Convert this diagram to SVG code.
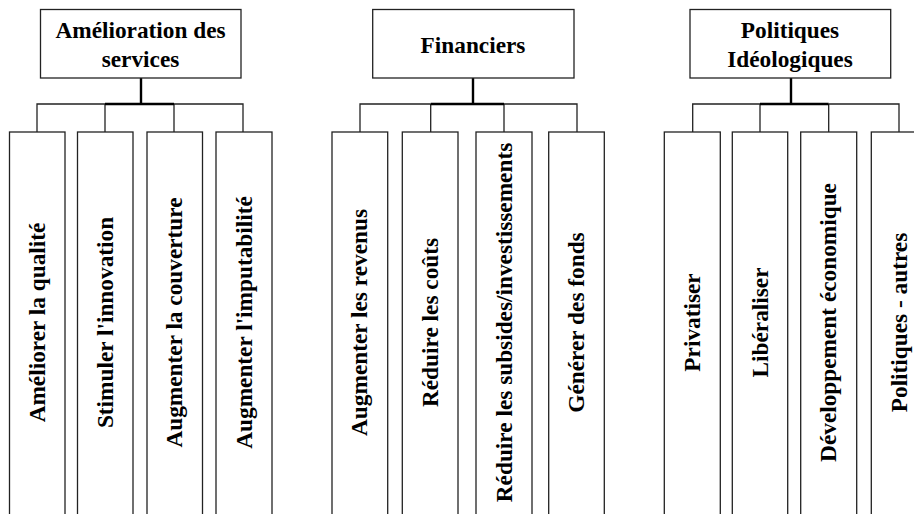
<svg xmlns="http://www.w3.org/2000/svg" width="914" height="514" viewBox="0 0 914 514">
  <style>
    .box { fill: #ffffff; stroke: #222222; stroke-width: 1.3; }
    .thin { fill: none; stroke: #222222; stroke-width: 1.3; }
    .thick { fill: none; stroke: #000000; stroke-width: 2.4; }
  </style>
  <rect width="914" height="514" fill="#ffffff"/>

  <!-- connectors: stem, bar and drops for each family -->
  <g id="connectors">
    <path class="thin" d="M37 132V104H105M174 104H243V132M105 104V132M174 104V132"/>
    <path class="thick" d="M141 78V104M105 104H174"/>

    <path class="thin" d="M360 132V104H430.7M504 104H577V132M430.7 104V132M504 104V132"/>
    <path class="thick" d="M473 78V104M430.7 104H504"/>

    <path class="thin" d="M692.7 132V104H760M828.7 104H899V132M760 104V132M828.7 104V132"/>
    <path class="thick" d="M791 78V104M760 104H828.7"/>
  </g>

  <g font-family="Liberation Serif, Times New Roman, serif" font-weight="bold" font-size="23.3" fill="#000000" text-anchor="middle">
    <!-- family 1 -->
    <g id="services">
      <rect class="box" x="40.5" y="9.5" width="200.5" height="68.5"/>
      <text x="140.5" y="38" font-family="Liberation Serif" font-weight="bold">Amélioration des</text>
      <text x="140.5" y="66.5" font-family="Liberation Serif" font-weight="bold">services</text>
    </g>
    <g id="qualite">
      <rect class="box" x="9.5" y="132" width="55.5" height="384"/>
      <text transform="translate(45 322.5) rotate(-90)" font-family="Liberation Serif" font-weight="bold">Améliorer la qualité</text>
    </g>
    <g id="innovation">
      <rect class="box" x="77.5" y="132" width="55.5" height="384"/>
      <text transform="translate(112.5 322.5) rotate(-90)" font-family="Liberation Serif" font-weight="bold">Stimuler l'innovation</text>
    </g>
    <g id="couverture">
      <rect class="box" x="147" y="132" width="55.5" height="384"/>
      <text transform="translate(182 322.5) rotate(-90)" font-family="Liberation Serif" font-weight="bold">Augmenter la couverture</text>
    </g>
    <g id="imputabilite">
      <rect class="box" x="216" y="132" width="56" height="384"/>
      <text transform="translate(251.5 322.5) rotate(-90)" font-family="Liberation Serif" font-weight="bold">Augmenter l'imputabilité</text>
    </g>

    <!-- family 2 -->
    <g id="financiers">
      <rect class="box" x="372.7" y="9.5" width="201.3" height="68.5"/>
      <text x="473" y="53.3" font-family="Liberation Serif" font-weight="bold">Financiers</text>
    </g>
    <g id="revenus">
      <rect class="box" x="332" y="132" width="55.7" height="384"/>
      <text transform="translate(367 322.5) rotate(-90)" font-family="Liberation Serif" font-weight="bold">Augmenter les revenus</text>
    </g>
    <g id="couts">
      <rect class="box" x="402.3" y="132" width="55.7" height="384"/>
      <text transform="translate(437.5 322.5) rotate(-90)" font-family="Liberation Serif" font-weight="bold">Réduire les coûts</text>
    </g>
    <g id="subsides">
      <rect class="box" x="476" y="132" width="56" height="384"/>
      <text transform="translate(511.5 322.5) rotate(-90)" font-family="Liberation Serif" font-weight="bold">Réduire les subsides/investissements</text>
    </g>
    <g id="fonds">
      <rect class="box" x="548.7" y="132" width="55.6" height="384"/>
      <text transform="translate(584 322.5) rotate(-90)" font-family="Liberation Serif" font-weight="bold">Générer des fonds</text>
    </g>

    <!-- family 3 -->
    <g id="politiques">
      <rect class="box" x="690" y="9.5" width="200.7" height="68.5"/>
      <text x="790" y="38" font-family="Liberation Serif" font-weight="bold">Politiques</text>
      <text x="790" y="66.5" font-family="Liberation Serif" font-weight="bold">Idéologiques</text>
    </g>
    <g id="privatiser">
      <rect class="box" x="664.3" y="132" width="56" height="384"/>
      <text transform="translate(700 322.5) rotate(-90)" font-family="Liberation Serif" font-weight="bold">Privatiser</text>
    </g>
    <g id="liberaliser">
      <rect class="box" x="732.3" y="132" width="55.4" height="384"/>
      <text transform="translate(767.5 322.5) rotate(-90)" font-family="Liberation Serif" font-weight="bold">Libéraliser</text>
    </g>
    <g id="developpement">
      <rect class="box" x="800.7" y="132" width="56" height="384"/>
      <text transform="translate(836 322.5) rotate(-90)" font-family="Liberation Serif" font-weight="bold">Développement économique</text>
    </g>
    <g id="autres">
      <rect class="box" x="871.3" y="132" width="56" height="384"/>
      <text transform="translate(906.5 322.5) rotate(-90)" font-family="Liberation Serif" font-weight="bold">Politiques - autres</text>
    </g>
  </g>
</svg>
